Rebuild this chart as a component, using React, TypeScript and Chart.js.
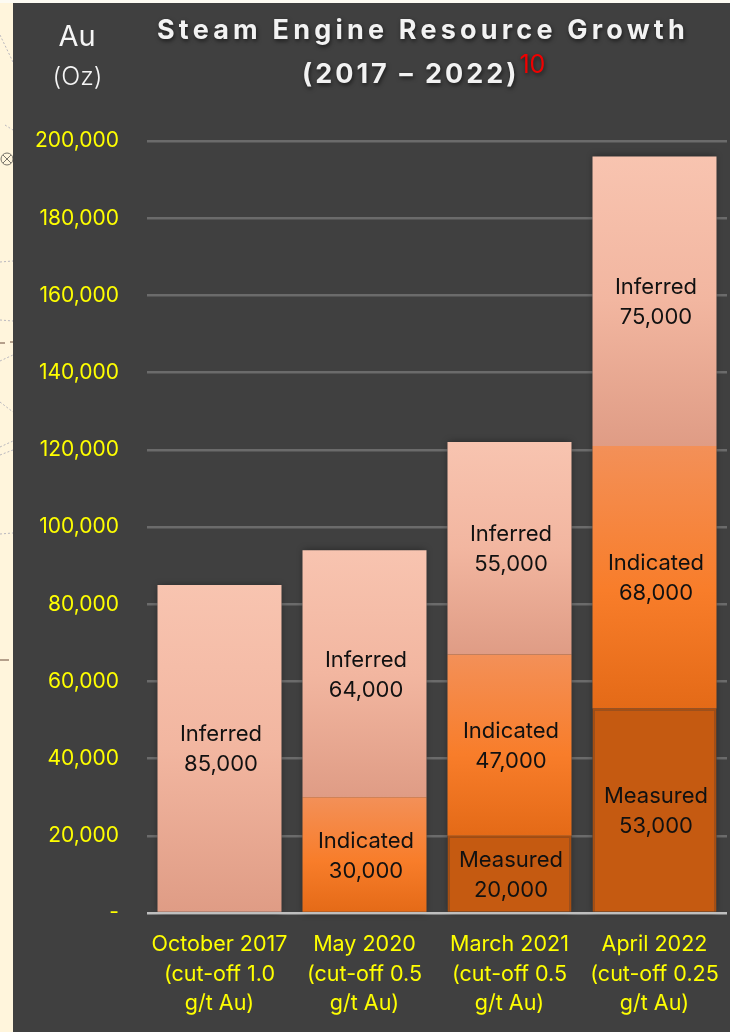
import React, { useEffect, useRef } from "react";
import { Chart, registerables } from "chart.js";

Chart.register(...registerables);

const categories = [
  ["October 2017", "(cut-off 1.0", "g/t Au)"],
  ["May 2020", "(cut-off 0.5", "g/t Au)"],
  ["March 2021", "(cut-off 0.5", "g/t Au)"],
  ["April 2022", "(cut-off 0.25", "g/t Au)"],
];
const measured = [null, null, 20000, 53000];
const indicated = [null, 30000, 47000, 68000];
const inferred = [85000, 64000, 55000, 75000];
const yTickLabels = ["-", "20,000", "40,000", "60,000", "80,000", "100,000", "120,000", "140,000", "160,000", "180,000", "200,000"];
const titleLines = ["Steam Engine Resource Growth", "(2017 – 2022)"];
const titleNote = "10";
const unitLines = ["Au", "(Oz)"];

const FONT = "Inter, 'Noto Sans', sans-serif";
const allSeries = [measured, indicated, inferred];

function gradientFor(seriesIndex: number, stops: [number, string][]) {
  return (c: any) => {
    const chart = c.chart;
    const yScale = chart.scales.y;
    const i = c.dataIndex;
    if (!yScale || i === undefined) return stops[0][1];
    let base = 0;
    for (let s = 0; s < seriesIndex; s++) base += allSeries[s][i] ?? 0;
    const val = allSeries[seriesIndex][i] ?? 0;
    const top = yScale.getPixelForValue(base + val);
    const bottom = yScale.getPixelForValue(base);
    if (!isFinite(top) || !isFinite(bottom) || top === bottom) return stops[0][1];
    const g = chart.ctx.createLinearGradient(0, top, 0, bottom);
    stops.forEach(([o, col]) => g.addColorStop(o, col));
    return g;
  };
}

const backdrop = {
  id: "backdrop",
  beforeDraw(chart: any) {
    const { ctx, width, height } = chart;
    ctx.save();
    ctx.fillStyle = "#FFF5DC";
    ctx.fillRect(0, 0, width, height);
    ctx.fillStyle = "#FDFBF3";
    ctx.fillRect(0, 0, width, 3);

    // faint map remnants in the sliver at the left edge
    ctx.strokeStyle = "#B9B7BE";
    ctx.lineWidth = 1;
    ctx.setLineDash([2, 2]);
    [[0, 262, 13, 261], [0, 320, 13, 321], [0, 361, 13, 355], [0, 402, 13, 412], [0, 447, 13, 441], [0, 455, 13, 450], [0, 534, 13, 533], [0, 35, 13, 62], [5, 125, 13, 130]].forEach(
      ([a, b, c, d]) => {
        ctx.beginPath();
        ctx.moveTo(a, b);
        ctx.lineTo(c, d);
        ctx.stroke();
      },
    );
    ctx.setLineDash([]);
    ctx.strokeStyle = "#6B4A3A";
    [[0, 343, 5, 343], [10, 342, 13, 342], [0, 660, 9, 660]].forEach(([a, b, c, d]) => {
      ctx.beginPath();
      ctx.moveTo(a, b);
      ctx.lineTo(c, d);
      ctx.stroke();
    });
    ctx.strokeStyle = "#77736A";
    ctx.beginPath();
    ctx.arc(7, 159, 6, 0, Math.PI * 2);
    ctx.moveTo(3, 155);
    ctx.lineTo(11, 163);
    ctx.moveTo(11, 155);
    ctx.lineTo(3, 163);
    ctx.stroke();

    ctx.fillStyle = "#404040";
    ctx.fillRect(13, 3, width - 13, height - 3);
    ctx.restore();
  },
};

const barShadow = {
  id: "barShadow",
  beforeDatasetsDraw(chart: any) {
    const { ctx } = chart;
    ctx.save();
    ctx.shadowColor = "rgba(0,0,0,0.4)";
    ctx.shadowBlur = 7;
    ctx.fillStyle = "#404040";
    const metas = chart.data.datasets.map((_: any, d: number) => chart.getDatasetMeta(d));
    metas[0].data.forEach((_: any, i: number) => {
      const els = metas.map((m: any) => m.data[i]);
      const top = Math.min(...els.map((e: any) => e.y));
      const bottom = Math.max(...els.map((e: any) => e.base));
      const { x, width } = els[els.length - 1];
      ctx.fillRect(x - width / 2, top, width, bottom - top);
    });
    ctx.restore();
  },
  afterDatasetsDraw(chart: any) {
    const { ctx, chartArea, scales } = chart;
    ctx.save();
    ctx.strokeStyle = "#BFBFBF";
    ctx.lineWidth = 2;
    const y0 = scales.y.getPixelForValue(0);
    ctx.beginPath();
    ctx.moveTo(chartArea.left, y0);
    ctx.lineTo(chartArea.right, y0);
    ctx.stroke();
    ctx.restore();
  },
};

const textLayer = {
  id: "textLayer",
  afterDraw(chart: any) {
    const { ctx } = chart;
    ctx.save();
    ctx.textAlign = "center";
    ctx.textBaseline = "middle";

    // segment captions
    ctx.font = `400 22px ${FONT}`;
    ctx.fillStyle = "#111111";
    chart.data.datasets.forEach((ds: any, d: number) => {
      const meta = chart.getDatasetMeta(d);
      ds.data.forEach((v: number | null, i: number) => {
        if (v == null) return;
        const el = meta.data[i];
        const mid = (el.y + el.base) / 2;
        ctx.fillText(ds.label, el.x + 1.5, mid - 13.5);
        ctx.fillText(v.toLocaleString("en-US"), el.x + 1.5, mid + 16.5);
      });
    });

    // unit
    ctx.fillStyle = "#F5F5F5";
    ctx.font = `400 29px ${FONT}`;
    ctx.fillText(unitLines[0], 77, 37);
    ctx.fillStyle = "#F5F5F5";
    ctx.font = `300 25px ${FONT}`;
    ctx.fillText(unitLines[1], 77.5, 77);

    // title
    ctx.save();
    ctx.shadowColor = "rgba(0,0,0,0.6)";
    ctx.shadowBlur = 4;
    ctx.shadowOffsetX = 1;
    ctx.shadowOffsetY = 2;
    ctx.fillStyle = "#F2F2F2";
    ctx.font = `700 27px ${FONT}`;
    ctx.textAlign = "left";
    (ctx as any).letterSpacing = "4.2px";
    const w0 = ctx.measureText(titleLines[0]).width;
    ctx.fillText(titleLines[0], 423 - w0 / 2, 31);
    (ctx as any).letterSpacing = "3px";
    ctx.fillText(titleLines[1], 302, 75);
    const w1 = ctx.measureText(titleLines[1]).width;
    ctx.font = `400 25px ${FONT}`;
    (ctx as any).letterSpacing = "0px";
    ctx.fillStyle = "#F00000";
    ctx.fillText(titleNote, 302 + w1, 65);
    ctx.restore();

    ctx.restore();
  },
};

export default function App() {
  const ref = useRef<HTMLCanvasElement>(null);
  useEffect(() => {
    if (!ref.current) return;
    const chart = new Chart(ref.current, {
      type: "bar",
      data: {
        labels: categories,
        datasets: [
          {
            label: "Measured",
            data: measured,
            backgroundColor: "#C55A11",
            borderColor: "#A84E10",
            borderWidth: 2,
          },
          {
            label: "Indicated",
            data: indicated,
            backgroundColor: gradientFor(1, [
              [0, "#F39058"],
              [0.55, "#F87D2A"],
              [1, "#E46A17"],
            ]),
          },
          {
            label: "Inferred",
            data: inferred,
            backgroundColor: gradientFor(2, [
              [0, "#F8C4B0"],
              [0.5, "#F2B6A0"],
              [1, "#DF9C85"],
            ]),
          },
        ],
      },
      options: {
        animation: false,
        responsive: false,
        maintainAspectRatio: false,
        layout: { padding: { left: 0, top: 141, right: 3, bottom: 0 } },
        datasets: { bar: { categoryPercentage: 1, barPercentage: 0.855 } },
        plugins: { legend: { display: false }, title: { display: false }, tooltip: { enabled: false } },
        scales: {
          x: {
            stacked: true,
            grid: { display: false },
            border: { display: false },
            afterFit(s: any) {
              s.height = 119;
            },
            ticks: {
              color: "#FFFF00",
              font: { family: FONT, size: 21.5, lineHeight: 1.37 },
              padding: 9,
              maxRotation: 0,
              autoSkip: false,
            },
          },
          y: {
            stacked: true,
            min: 0,
            max: 200000,
            afterFit(s: any) {
              s.width = 147;
            },
            afterBuildTicks(s: any) {
              s.ticks = yTickLabels.map((_, i) => ({ value: i * 20000 }));
            },
            border: { display: false },
            grid: {
              drawTicks: false,
              lineWidth: 2.5,
              color: (c: any) => (c.tick && c.tick.value === 0 ? "#BFBFBF" : "#6B6B6B"),
            },
            ticks: {
              color: "#FFFF00",
              font: { family: FONT, size: 21 },
              padding: 28,
              callback: (_v: any, i: number) => yTickLabels[i],
            },
          },
        },
      },
      plugins: [backdrop, barShadow, textLayer],
    } as any);
    return () => chart.destroy();
  }, []);
  return (
    <div style={{ position: "fixed", left: 0, top: 0, width: 730, height: 1032 }}>
      <canvas ref={ref} width={730} height={1032} style={{ display: "block" }} />
    </div>
  );
}
